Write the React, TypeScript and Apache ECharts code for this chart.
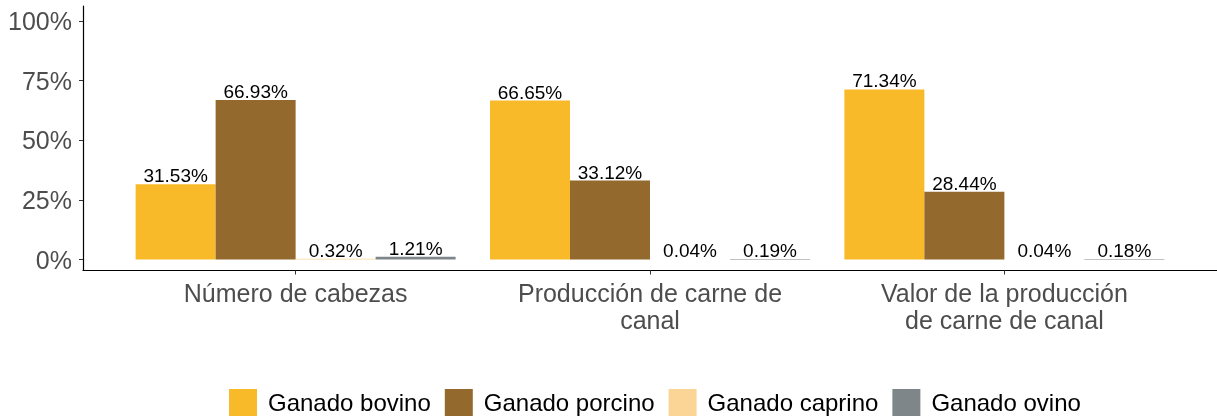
import React, { useEffect, useRef } from "react";
import * as echarts from "echarts";

const categories = [
  "Número de cabezas",
  "Producción de carne de\ncanal",
  "Valor de la producción\nde carne de canal",
];
const seriesNames = ["Ganado bovino", "Ganado porcino", "Ganado caprino", "Ganado ovino"];
const bovino = [31.53, 66.65, 71.34];
const porcino = [66.93, 33.12, 28.44];
const caprino = [0.32, 0.04, 0.04];
const ovino = [1.21, 0.19, 0.18];
const yTicks = [0, 25, 50, 75, 100];
const colors = ["#F9BA29", "#94692D", "#FAD595", "#7E868A"];

const FONT = "'Liberation Sans', Arial, sans-serif";

export default function App() {
  const ref = useRef<HTMLDivElement>(null);
  useEffect(() => {
    if (!ref.current) return;
    const chart = echarts.init(ref.current, undefined, { renderer: "svg" });
    const allValues = [bovino, porcino, caprino, ovino];
    const positions = categories.map((_, i) => i + 1);
    chart.setOption({
      animation: false,
      textStyle: { fontFamily: FONT },
      grid: { left: 83, top: 6, right: 0, bottom: 148.5, containLabel: false },
      legend: {
        left: 229,
        top: 389,
        padding: 0,
        itemWidth: 28,
        itemHeight: 27,
        itemGap: 14,
        icon: "rect",
        textStyle: { fontSize: 24, color: "#000", fontFamily: FONT, padding: [0, 0, 0, 6] },
        data: seriesNames,
      },
      xAxis: {
        type: "value",
        min: 0.4,
        max: 3.6,
        splitLine: { show: false },
        axisLine: { show: true, onZero: false, lineStyle: { color: "#000", width: 1.2 } },
        axisTick: { show: true, length: 4, lineStyle: { color: "#333" }, customValues: positions },
        axisLabel: {
          show: true,
          customValues: positions,
          formatter: (v: number) => categories[Math.round(v) - 1] ?? "",
          fontSize: 25,
          lineHeight: 27,
          color: "#4D4D4D",
          margin: 9,
          fontFamily: FONT,
          align: "center",
        },
      },
      yAxis: {
        type: "value",
        min: -4.6,
        max: 106.3,
        splitLine: { show: false },
        axisLine: { show: true, lineStyle: { color: "#000", width: 1.2 } },
        axisTick: { show: true, length: 4, lineStyle: { color: "#333" }, customValues: yTicks },
        axisLabel: {
          show: true,
          customValues: yTicks,
          formatter: (v: number) => `${v}%`,
          fontSize: 25,
          color: "#4D4D4D",
          margin: 11,
          fontFamily: FONT,
        },
      },
      series: seriesNames.map((name, si) => ({
        name,
        type: "bar",
        barWidth: 80,
        barGap: "0%",
        itemStyle: { color: colors[si] },
        label: {
          show: true,
          position: "top",
          distance: -1,
          color: "#000",
          fontSize: 19,
          fontFamily: FONT,
          formatter: (p: any) => `${Number(p.value[1]).toFixed(2)}%`,
        },
        data: allValues[si].map((v, i) => [positions[i], v]),
      })),
    });
    return () => chart.dispose();
  }, []);
  return (
    <div
      ref={ref}
      style={{ position: "fixed", left: 0, top: 0, width: 1217, height: 419 }}
    />
  );
}
